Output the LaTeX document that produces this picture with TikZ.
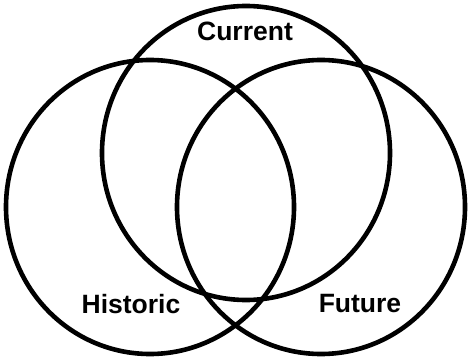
\documentclass[tikz,border=0pt]{standalone}
\usepackage{fontspec}
\setmainfont{Liberation Sans}
\usetikzlibrary{positioning}

\begin{document}
\begin{tikzpicture}[
    x=1pt, y=-1pt,
    set_ring/.style={draw=black, line width=4.6pt},
    set_label/.style={font=\bfseries\fontsize{26.5}{30}\selectfont, inner sep=0pt}
]

\useasboundingbox (0,0) rectangle (468,358);

% the three sets
\draw[set_ring] (246,153) ellipse [x radius=144pt, y radius=147pt];
\draw[set_ring] (150,207) ellipse [x radius=144pt, y radius=147pt];
\draw[set_ring] (321,207) ellipse [x radius=144pt, y radius=147pt];

\node[set_label] (current) at (245,31) {Current};
\node[set_label] (historic) at (131,304) {Historic};
\node[set_label] (future) at (360,304) {Future};

\end{tikzpicture}
\end{document}
